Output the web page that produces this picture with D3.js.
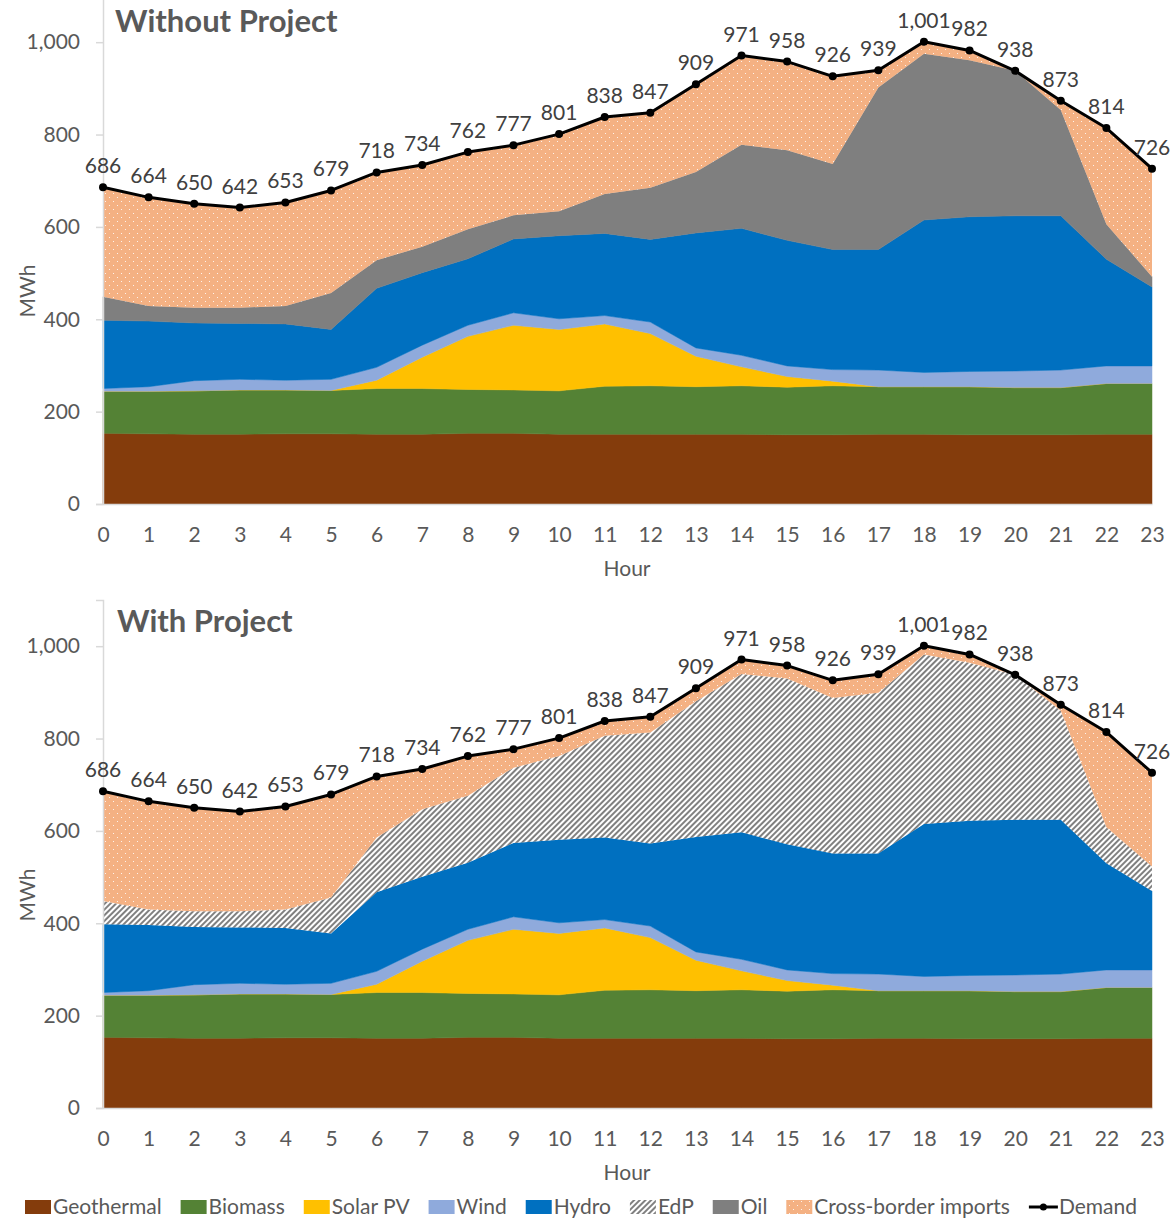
<!DOCTYPE html>
<html>
<head>
<meta charset="utf-8">
<script src="https://cdn.jsdelivr.net/npm/d3@7"></script>
<style>
  html, body { margin: 0; padding: 0; background: #fff; }
  svg { display: block; font-family: Lato, "Open Sans", sans-serif; }
</style>
</head>
<body>
<svg id="chart" width="1172" height="1219"></svg>
<script>
// ---------------- DATA ----------------
const hours = [0,1,2,3,4,5,6,7,8,9,10,11,12,13,14,15,16,17,18,19,20,21,22,23];
const demand = [686,664,650,642,653,679,718,734,762,777,801,838,847,909,971,958,926,939,1001,982,938,873,814,726];
const geothermal = [153,152,151,151,152,152,151,151,153,153,151,151,151,151,151,150,150,151,151,150,150,150,151,151];
const biomass = [91,92,94,96,95,94,99,99,95,94,94,104,105,103,105,103,106,103,103,104,102,102,110,110];
const solarPV = [0,0,0,0,0,0,18,68,115,140,133,135,113,66,41,23,10,0,0,0,0,0,0,0];
const wind = [6,10,22,23,21,24,28,26,24,27,23,18,25,18,25,23,25,36,31,33,36,38,38,38];
const hydro = [148,142,125,121,122,108,171,157,144,160,180,178,179,249,275,272,260,261,330,335,336,334,231,171];
// Without project
const oilWithout = [51,33,33,34,39,79,61,56,64,51,53,85,112,132,181,195,185,351,360,339,314,229,76,22];
const importsWithout = [237,235,225,217,224,222,190,177,167,152,167,167,162,190,193,192,190,37,26,21,0,20,208,234];
// With project
const edpWith = [50,34,34,35,40,78,119,146,145,163,181,220,240,294,343,359,337,348,367,342,314,236,78,53];
const importsWith = [238,234,224,216,223,223,132,87,86,40,39,32,34,28,31,28,38,40,19,18,0,13,206,203];

const yTicks = [0,200,400,600,800,1000];
const legendItems = ["Geothermal","Biomass","Solar PV","Wind","Hydro","EdP","Oil","Cross-border imports","Demand"];
const chartTitles = ["Without Project","With Project"];

// ---------------- STYLE ----------------
const FONT = "Lato, 'Open Sans', sans-serif";
const colors = {
  Geothermal: "#843C0C",
  Biomass: "#548235",
  "Solar PV": "#FFC000",
  Wind: "#8FAADC",
  Hydro: "#0070C0",
  EdP: "url(#hatch)",
  Oil: "#7F7F7F",
  "Cross-border imports": "url(#dots)"
};

const svg = d3.select("#chart");
const defs = svg.append("defs");

// hatch pattern (EdP)
const hatch = defs.append("pattern")
  .attr("id", "hatch").attr("patternUnits", "userSpaceOnUse")
  .attr("width", 4).attr("height", 4)
  .attr("patternTransform", "rotate(45)");
hatch.append("rect").attr("width", 4).attr("height", 4).attr("fill", "#fff");
hatch.append("rect").attr("width", 2).attr("height", 4).attr("fill", "#808080");

// dotted pattern (imports)
const dots = defs.append("pattern")
  .attr("id", "dots").attr("patternUnits", "userSpaceOnUse")
  .attr("width", 8).attr("height", 8);
dots.append("rect").attr("width", 8).attr("height", 8).attr("fill", "#F4B183");
dots.append("rect").attr("x", 1).attr("y", 1).attr("width", 1).attr("height", 1).attr("fill", "#fff").attr("opacity", 0.85);
dots.append("rect").attr("x", 5).attr("y", 5).attr("width", 1).attr("height", 1).attr("fill", "#fff").attr("opacity", 0.85);

const x = d3.scaleLinear().domain([0, 23]).range([103, 1152]);

function drawChart(cfg) {
  const g = svg.append("g");
  const y = d3.scaleLinear().domain([0, 1100]).range([cfg.y0, cfg.y0 - 508]);

  const rows = hours.map((h, i) => {
    const r = { hour: h };
    cfg.series.forEach(s => r[s.key] = s.values[i]);
    return r;
  });
  const stack = d3.stack().keys(cfg.series.map(s => s.key));
  const layers = stack(rows);

  const area = d3.area()
    .x(d => x(d.data.hour))
    .y0(d => y(d[0]))
    .y1(d => y(d[1]))
    .curve(d3.curveLinear);

  g.selectAll("path.layer").data(layers).join("path")
    .attr("class", "layer")
    .attr("d", area)
    .attr("fill", d => colors[d.key])
    .attr("stroke", d => colors[d.key].startsWith("url") ? "none" : colors[d.key])
    .attr("stroke-width", 0.5);

  // axes
  const yAxis = d3.axisLeft(y).tickValues(yTicks).tickSize(7).tickFormat(d3.format(","));
  const ya = g.append("g").attr("transform", "translate(103,0)").call(yAxis);
  ya.select(".domain").attr("stroke", "#D9D9D9").attr("stroke-width", 1.5);
  ya.selectAll(".tick line").attr("stroke", "#D9D9D9").attr("stroke-width", 1.5);
  ya.selectAll(".tick text").attr("x", -23).attr("font-size", 21).attr("fill", "#595959")
    .attr("font-family", FONT);

  const xAxis = d3.axisBottom(x).tickValues(hours).tickSize(0).tickFormat(d3.format("d"));
  const xa = g.append("g").attr("transform", `translate(0,${cfg.y0})`).call(xAxis);
  xa.select(".domain").attr("stroke", "#D9D9D9").attr("stroke-width", 1.5);
  xa.selectAll(".tick text").attr("y", 23).attr("dy", "0.71em").attr("font-size", 21).attr("fill", "#595959")
    .attr("font-family", FONT);

  // axis titles
  g.append("text").attr("x", 627).attr("y", cfg.y0 + 72).attr("text-anchor", "middle")
    .attr("font-size", 21).attr("fill", "#595959").text("Hour");
  g.append("text").attr("transform", `translate(35,${cfg.y0 - 213}) rotate(-90)`)
    .attr("text-anchor", "middle").attr("font-size", 21).attr("fill", "#595959").text("MWh");

  // demand line
  const line = d3.line().x((d, i) => x(hours[i])).y(d => y(d));
  g.append("path").attr("d", line(demand)).attr("fill", "none")
    .attr("stroke", "#000").attr("stroke-width", 3).attr("stroke-linejoin", "round");
  g.selectAll("circle.pt").data(demand).join("circle")
    .attr("class", "pt")
    .attr("cx", (d, i) => x(hours[i])).attr("cy", d => y(d)).attr("r", 4).attr("fill", "#000");
  g.selectAll("text.lbl").data(demand).join("text")
    .attr("class", "lbl")
    .attr("x", (d, i) => x(hours[i])).attr("y", d => y(d) - 14)
    .attr("text-anchor", "middle").attr("font-size", 21).attr("fill", "#404040")
    .text(d => d3.format(",")(d));

  // title
  g.append("text").attr("x", cfg.titleX).attr("y", cfg.titleY)
    .attr("font-size", 31).attr("font-weight", "bold").attr("fill", "#595959").text(cfg.title);
}

drawChart({
  y0: 504, title: chartTitles[0], titleX: 115, titleY: 32,
  series: [
    { key: "Geothermal", values: geothermal },
    { key: "Biomass", values: biomass },
    { key: "Solar PV", values: solarPV },
    { key: "Wind", values: wind },
    { key: "Hydro", values: hydro },
    { key: "Oil", values: oilWithout },
    { key: "Cross-border imports", values: importsWithout }
  ]
});

drawChart({
  y0: 1108, title: chartTitles[1], titleX: 117, titleY: 632,
  series: [
    { key: "Geothermal", values: geothermal },
    { key: "Biomass", values: biomass },
    { key: "Solar PV", values: solarPV },
    { key: "Wind", values: wind },
    { key: "Hydro", values: hydro },
    { key: "EdP", values: edpWith },
    { key: "Cross-border imports", values: importsWith }
  ]
});

// ---------------- LEGEND ----------------
const lg = svg.append("g");
const ly = 1207;
const legendStart = 25, legendEnd = 1137;
const items = legendItems.map(name => {
  const item = lg.append("g");
  const sw = name === "Demand" ? 30 : 28;
  const t = item.append("text").attr("y", ly + 7)
    .attr("font-size", 21).attr("fill", "#595959").text(name);
  return { name, item, t, sw, w: t.node().getComputedTextLength() };
});
const totalW = d3.sum(items, d => d.sw + d.w);
const gap = (legendEnd - legendStart - totalW) / (items.length - 1);
let lx = legendStart;
items.forEach(d => {
  if (d.name === "Demand") {
    d.item.append("line").attr("x1", lx).attr("x2", lx + 29).attr("y1", ly).attr("y2", ly)
      .attr("stroke", "#000").attr("stroke-width", 3);
    d.item.append("circle").attr("cx", lx + 14.5).attr("cy", ly).attr("r", 3.5).attr("fill", "#000");
  } else {
    d.item.append("rect").attr("x", lx).attr("y", ly - 7).attr("width", 26).attr("height", 14)
      .attr("fill", colors[d.name]);
  }
  d.t.attr("x", lx + d.sw);
  lx += d.sw + d.w + gap;
});
</script>
</body>
</html>
